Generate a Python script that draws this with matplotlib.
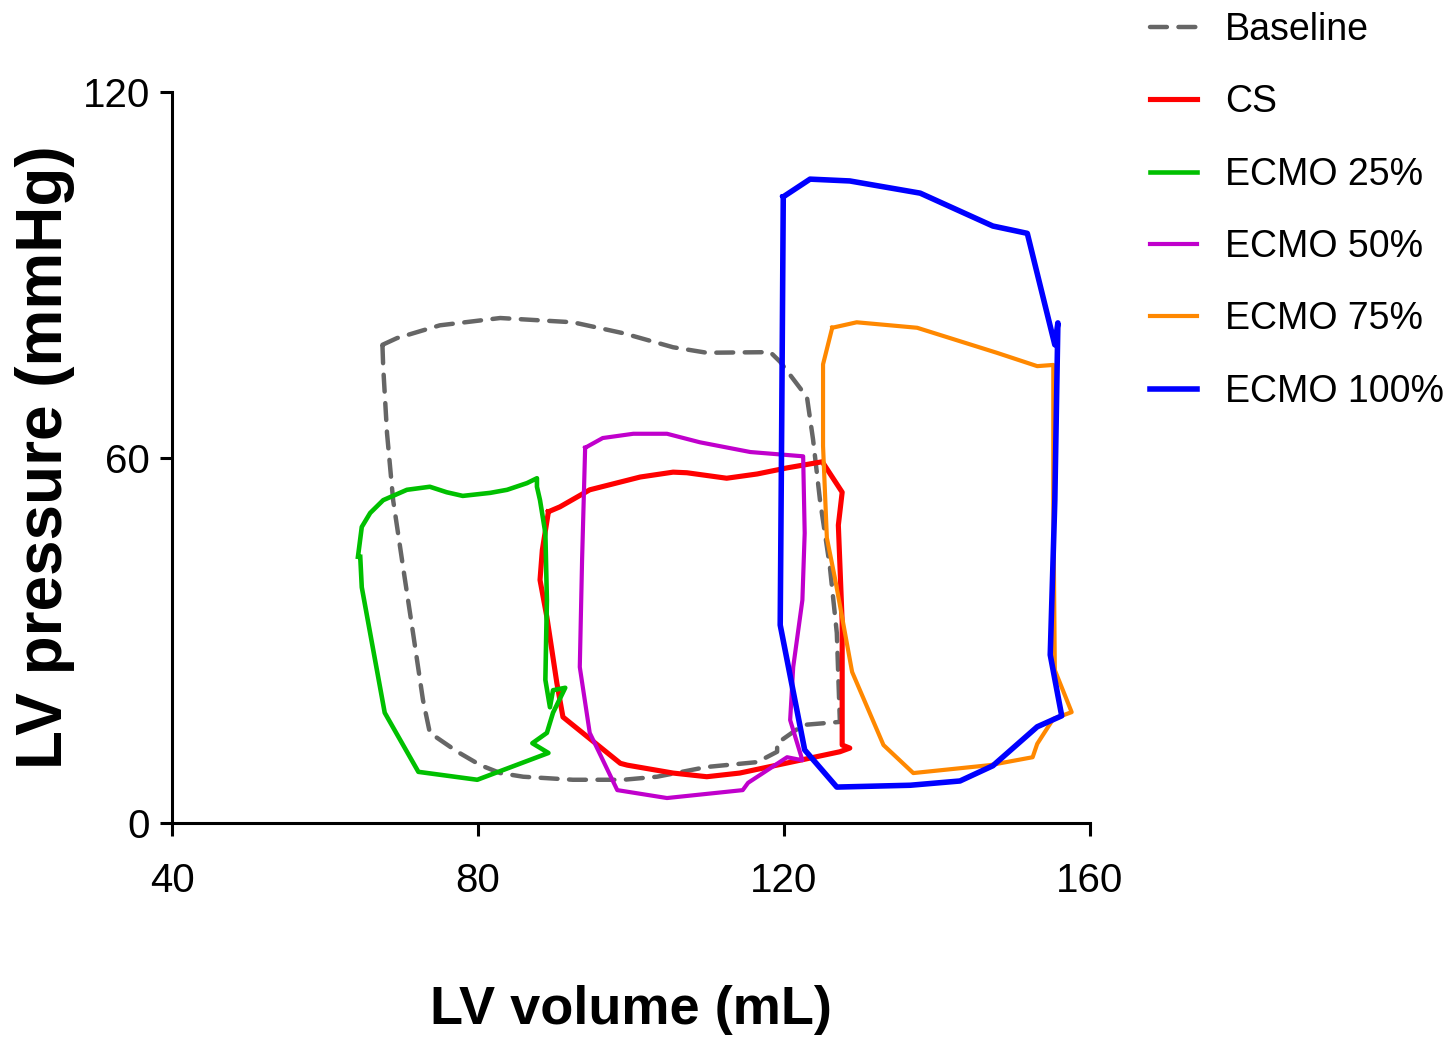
import matplotlib
matplotlib.use("Agg")
import matplotlib.pyplot as plt

plt.rcParams['font.family'] = ['Liberation Sans', 'DejaVu Sans']

# pressure-volume loops (volume mL, pressure mmHg)
baseline_v = [67.5, 69.4, 75.0, 82.9, 92.4, 99.0, 105.5, 109.9, 118.2, 119.5, 123.0, 123.8,
              124.7, 126.0, 126.9, 127.3, 122.5, 119.1, 119.1, 116.5, 109.9, 103.4, 99.0,
              92.4, 85.9, 82.9, 80.3, 77.3, 73.7, 72.8, 71.5, 70.2, 68.9, 68.1, 67.6, 67.5]
baseline_p = [78.5, 79.6, 81.7, 82.9, 82.2, 80.4, 78.1, 77.2, 77.3, 75.7, 69.9, 62.9,
              53.0, 42.0, 31.2, 16.6, 16.1, 13.1, 11.7, 10.0, 9.2, 7.6, 7.1,
              7.1, 7.6, 8.2, 9.5, 11.7, 14.8, 20.2, 31.2, 42.0, 53.0, 64.0, 74.9, 78.5]

cs_v = [89.2, 90.7, 94.6, 101.2, 105.5, 107.3, 112.5, 116.5, 120.4, 125.0, 127.6, 127.1,
        127.6, 127.6, 128.6, 127.3, 114.2, 109.9, 105.5, 99.5, 98.6, 91.1, 90.3, 89.0,
        88.1, 88.4, 89.2]
cs_p = [51.1, 51.9, 54.7, 56.8, 57.6, 57.5, 56.6, 57.3, 58.3, 59.3, 54.3, 48.9,
        33.0, 12.8, 12.3, 11.7, 8.2, 7.6, 8.2, 9.5, 9.8, 17.4, 23.0, 33.8,
        39.9, 44.8, 51.1]

ecmo25_v = [64.3, 64.8, 65.9, 67.6, 70.7, 73.7, 75.9, 78.0, 81.6, 83.8, 86.4, 87.7, 87.7,
            88.1, 88.8, 89.0, 88.8, 89.4, 89.8, 91.4, 89.8, 89.0, 87.1, 89.2, 79.9, 72.2,
            67.8, 64.8, 64.6]
ecmo25_p = [43.7, 48.6, 50.9, 53.0, 54.7, 55.2, 54.3, 53.7, 54.2, 54.7, 55.8, 56.6, 55.2,
            53.0, 47.6, 36.6, 23.5, 19.0, 21.8, 22.2, 18.1, 14.8, 13.1, 11.5, 7.1, 8.4,
            18.1, 38.7, 43.7]

ecmo50_v = [94.0, 96.3, 100.3, 104.7, 109.0, 115.6, 122.5, 122.7, 122.4, 121.2, 120.8, 122.4,
            120.4, 115.3, 114.6, 104.7, 98.2, 94.6, 93.3, 93.6, 94.0]
ecmo50_p = [61.6, 63.2, 63.9, 63.9, 62.5, 60.9, 60.2, 47.6, 36.6, 25.6, 16.9, 10.3,
            10.8, 6.6, 5.4, 4.1, 5.4, 14.8, 25.6, 43.2, 61.6]

ecmo75_v = [126.3, 129.5, 137.4, 147.8, 153.1, 155.2, 155.2, 155.4, 157.6, 155.2, 153.1, 152.5,
            146.9, 136.9, 133.0, 128.9, 126.7, 125.6, 125.1, 125.1, 126.3]
ecmo75_p = [81.3, 82.2, 81.3, 77.2, 75.0, 75.2, 53.0, 25.1, 18.2, 17.1, 13.0, 10.8,
            9.5, 8.2, 12.8, 24.8, 39.9, 46.8, 61.9, 75.3, 81.3]

ecmo100_v = [119.9, 123.4, 128.6, 137.8, 147.3, 151.8, 155.4, 155.8, 155.4, 154.8, 156.3, 153.1,
             147.3, 143.0, 136.5, 126.9, 122.7, 119.5, 119.7, 119.9]
ecmo100_p = [102.8, 105.7, 105.4, 103.4, 98.0, 96.8, 78.5, 82.1, 53.0, 27.6, 17.6, 15.8,
             9.4, 6.9, 6.2, 5.9, 12.0, 32.5, 66.2, 102.8]

x_ticks = [40, 80, 120, 160]
y_ticks = [0, 60, 120]

fig = plt.figure(figsize=(14.52, 10.41), dpi=100)
ax = fig.add_axes([0.1185, 0.2094, 0.6322, 0.7022])

ax.plot(baseline_v, baseline_p, color='#666666', lw=3.2, dashes=(3.8, 2.6),
        dash_capstyle='round', label='Baseline')
ax.plot(cs_v, cs_p, color='#ff0000', lw=3.7, label='CS')
ax.plot(ecmo25_v, ecmo25_p, color='#00c000', lw=3.3, label='ECMO 25%')
ax.plot(ecmo50_v, ecmo50_p, color='#c000cc', lw=3.0, label='ECMO 50%')
ax.plot(ecmo75_v, ecmo75_p, color='#ff8800', lw=3.0, label='ECMO 75%')
ax.plot(ecmo100_v, ecmo100_p, color='#0000ff', lw=4.0, label='ECMO 100%')

ax.set_xlim(40, 160)
ax.set_ylim(0, 120)
ax.set_xticks(x_ticks)
ax.set_yticks(y_ticks)
for s in ['top', 'right']:
    ax.spines[s].set_visible(False)
for s in ['left', 'bottom']:
    ax.spines[s].set_linewidth(2.2)
ax.tick_params(length=9, width=2.2, labelsize=29)
ax.tick_params(axis='x', pad=19)
ax.tick_params(axis='y', pad=7)

ax.set_xlabel('LV volume (mL)', fontsize=39, fontweight='bold')
ax.set_ylabel('LV pressure (mmHg)', fontsize=46, fontweight='bold')
ax.xaxis.set_label_coords(0.5, -0.221)
ax.yaxis.set_label_coords(-0.106, 0.5)

ax.legend(loc='upper left', bbox_to_anchor=(1150 / 1452, 0.9885),
          bbox_transform=fig.transFigure, frameon=False, fontsize=27,
          handlelength=1.25, handletextpad=0.75, labelspacing=0.97,
          borderpad=0, borderaxespad=0)

fig.savefig('out.png', dpi=100)
